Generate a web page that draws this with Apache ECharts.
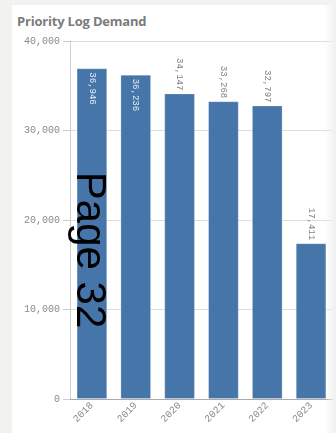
<!DOCTYPE html>
<html>
<head>
<meta charset="utf-8">
<script src="https://cdn.jsdelivr.net/npm/echarts@6/dist/echarts.min.js"></script>
<style>
  html, body { margin: 0; padding: 0; background: #f2f2f0; }
  #wrap { position: relative; width: 336px; height: 433px; overflow: hidden; background: #f2f2f0; }
  #card { position: absolute; left: 12px; top: 5px; right: 0; bottom: 0; background: #ffffff; }
  #fade { position: absolute; left: 324px; top: 5px; width: 12px; bottom: 0;
          background: linear-gradient(to right, rgba(244,244,244,0), rgba(240,240,240,1)); }
  #title { position: absolute; left: 17px; top: 12px; font: bold 13px "Open Sans", "Noto Sans", sans-serif; color: #7b7b7b; letter-spacing: -0.2px; }
  #chart { position: absolute; left: 0; top: 0; width: 336px; height: 433px; }
</style>
</head>
<body>
<div id="wrap">
  <div id="card"></div>
  <div id="title">Priority Log Demand</div>
  <div id="chart"></div>
  <div id="fade"></div>
</div>
<script>
const categories = ['2018', '2019', '2020', '2021', '2022', '2023'];
const demand = [36946, 36236, 34147, 33268, 32797, 17411];
const labelInside = [true, true, false, false, false, false];
const yMin = 0, yMax = 40000, yStep = 10000;

const monoFont = '"Liberation Mono", "DejaVu Sans Mono", monospace';
const fmt = v => v.toLocaleString('en-US');

const chart = echarts.init(document.getElementById('chart'), null, { renderer: 'canvas' });

const barData = demand.map((v, i) => ({
  value: v,
  label: labelInside[i]
    ? { position: 'insideTop', distance: 4, align: 'left', verticalAlign: 'middle', color: '#e6edf5' }
    : { position: 'top', distance: 3, align: 'right', verticalAlign: 'middle', color: '#808080' }
}));

chart.setOption({
  animation: false,
  grid: { left: 70, right: 3, top: 41, bottom: 34, containLabel: false },
  xAxis: {
    type: 'category',
    data: categories,
    axisLine: { show: true, lineStyle: { color: '#aaaaaa', width: 1 } },
    axisTick: { show: false },
    axisLabel: { rotate: 45, margin: 5, fontFamily: monoFont, fontSize: 10, color: '#8a8a8a' }
  },
  yAxis: {
    type: 'value',
    min: yMin, max: yMax, interval: yStep,
    axisLine: { show: true, lineStyle: { color: '#d0d0d0' } },
    axisTick: { show: true, length: 7, lineStyle: { color: '#cccccc' } },
    splitLine: { show: true, lineStyle: { color: '#dddddd' } },
    axisLabel: { margin: 10, fontFamily: monoFont, fontSize: 10, color: '#8a8a8a', formatter: v => fmt(v) }
  },
  series: [{
    type: 'bar',
    data: barData,
    barCategoryGap: '30%',
    itemStyle: { color: '#4575a9', borderColor: 'rgba(255,255,255,0.25)', borderWidth: 1 },
    label: {
      show: true, rotate: -90, fontFamily: monoFont, fontSize: 9,
      formatter: p => fmt(p.value)
    }
  }],
  graphic: [{
    type: 'text',
    left: null,
    x: 89, y: 250,
    rotation: -Math.PI / 2,
    style: {
      text: 'Page 32',
      font: '42px "Liberation Sans", Arial, sans-serif',
      fill: '#000000',
      textAlign: 'center',
      textVerticalAlign: 'middle'
    },
    z: 100
  }]
});
</script>
</body>
</html>
